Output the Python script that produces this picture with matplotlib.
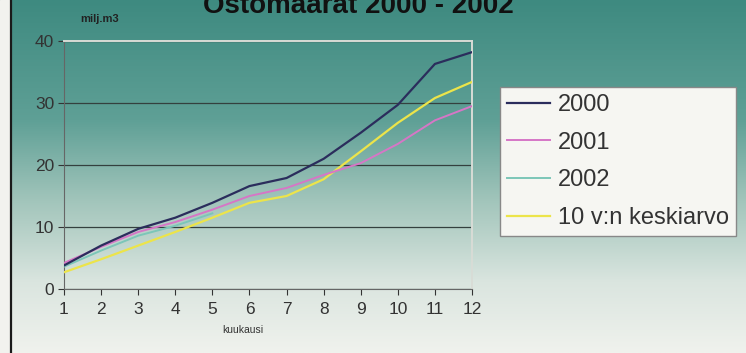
import numpy as np
import matplotlib
matplotlib.use("Agg")
import matplotlib.pyplot as plt
from matplotlib.lines import Line2D

plt.rcParams['font.family'] = ['Liberation Sans', 'DejaVu Sans']

months = list(range(1, 13))
y2000 = [3.8, 7.0, 9.7, 11.5, 13.9, 16.6, 17.9, 21.0, 25.2, 29.7, 36.3, 38.2]
y2001 = [4.2, 6.8, 9.2, 10.8, 12.8, 15.0, 16.3, 18.4, 20.3, 23.4, 27.2, 29.5]
y2002 = [3.6, 6.2, 8.6, 10.2, 12.2]
yavg = [2.7, 4.8, 7.0, 9.2, 11.5, 13.9, 15.0, 17.7, 22.2, 26.8, 30.8, 33.4]
labels = ['2000', '2001', '2002', '10 v:n keskiarvo']
colors = ['#2b2d5c', '#d676c6', '#7cc6b8', '#ece44a']

W, H = 746, 353
fig = plt.figure(figsize=(W / 100, H / 100), dpi=100)

# background gradient
bg = fig.add_axes([0, 0, 1, 1], zorder=-10)
bg.set_axis_off()
ys = np.linspace(0, 1, 200)
stops = [0.0, 0.34, 0.57, 0.80, 1.0]
cols = np.array([[62, 138, 128], [95, 160, 150], [162, 197, 187], [218, 229, 223], [240, 242, 237]]) / 255
grad = np.stack([np.interp(ys, stops, cols[:, i]) for i in range(3)], axis=-1)
img = np.repeat(grad[:, None, :], 10, axis=1)
bg.imshow(img, aspect='auto', extent=[0, 1, 0, 1], origin='upper')
bg.set_xlim(0, 1)
bg.set_ylim(0, 1)
bg.axvspan(0, 10 / W, color='#f2f2ee')
bg.add_line(Line2D([10.5 / W, 10.5 / W], [0, 1], color='#1a1a1a', lw=1.6))

ax = fig.add_axes([64 / W, 1 - 289 / H, (472 - 64) / W, (289 - 41) / H])
ax.patch.set_alpha(0)
ax.plot(months, yavg, color=colors[3], lw=1.6, label=labels[3], zorder=3)
ax.plot(months[:len(y2002)], y2002, color=colors[2], lw=1.4, label=labels[2], zorder=3)
ax.plot(months, y2001, color=colors[1], lw=1.4, label=labels[1], zorder=4)
ax.plot(months, y2000, color=colors[0], lw=1.6, label=labels[0], zorder=5)

ax.set_xlim(1, 12)
ax.set_ylim(0, 40)
ax.set_xticks(months)
ax.set_yticks([0, 10, 20, 30, 40])
ax.yaxis.grid(True, color='#34403e', lw=0.9)
ax.set_axisbelow(True)
ax.tick_params(labelsize=12.5, colors='#333333', length=4, width=0.8, direction='out')
ax.tick_params(axis='x', pad=5)
ax.tick_params(axis='y', pad=3)
for s in ['left', 'bottom']:
    ax.spines[s].set_color('#666666')
for s in ['top', 'right']:
    ax.spines[s].set_color('#d8dcd6')
    ax.spines[s].set_linewidth(1.4)

handles, lbls = ax.get_legend_handles_labels()
order = [3, 2, 1, 0]
leg = fig.legend([handles[i] for i in order], [lbls[i] for i in order],
                 loc='upper left', bbox_to_anchor=(500 / W, 1 - 87 / H),
                 fontsize=17, frameon=True, fancybox=False,
                 handlelength=1.8, handletextpad=0.35, labelspacing=0.66,
                 borderpad=0.3, borderaxespad=0)
leg.get_frame().set_facecolor('#f6f6f2')
leg.get_frame().set_edgecolor('#888888')
leg.get_frame().set_alpha(1)
for t in leg.get_texts():
    t.set_color('#333333')

fig.text(358 / W, 1 - 13 / H, 'Ostomäärät 2000 - 2002', ha='center', va='baseline',
         fontsize=20, fontweight='bold', color='#111111')
fig.text(80 / W, 1 - 22 / H, 'milj.m3', ha='left', va='baseline',
         fontsize=8, fontweight='bold', color='#222222')
fig.text(243 / W, 1 - 333 / H, 'kuukausi', ha='center', va='baseline',
         fontsize=7.5, color='#333333')

fig.savefig('out.png', dpi=100)
